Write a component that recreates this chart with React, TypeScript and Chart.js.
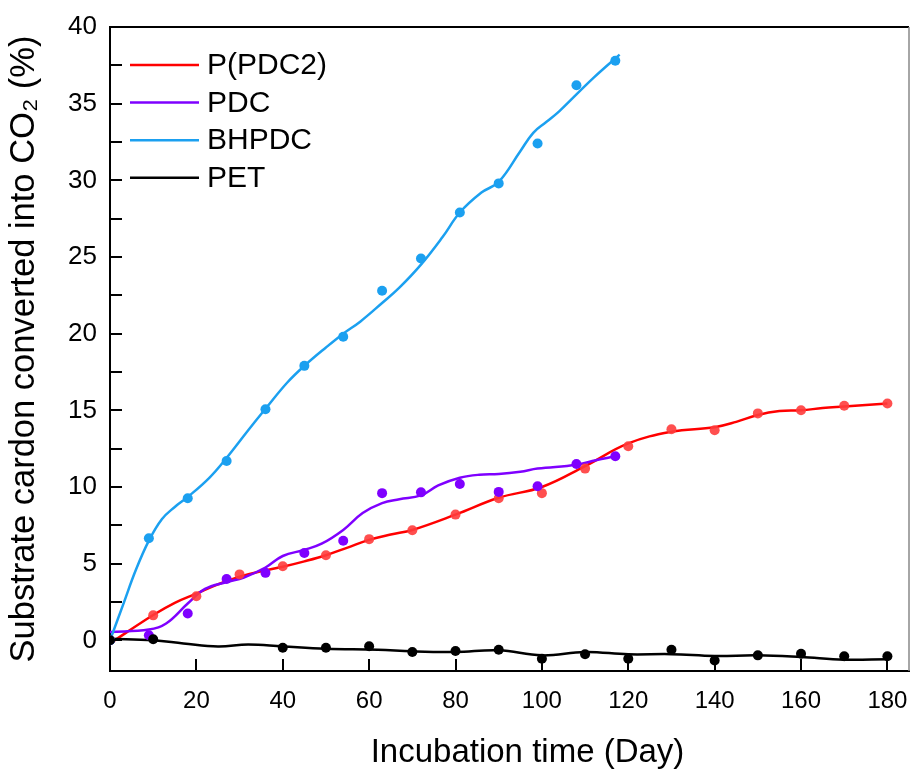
import React, { useEffect, useRef } from "react";
import { Chart, registerables } from "chart.js";

Chart.register(...registerables);

const FONT = "'Liberation Sans', Arial, Helvetica, sans-serif";

// ---- series meta ----
const seriesNames = ["P(PDC2)", "PDC", "BHPDC", "PET"];
const lineColors = ["#ff0000", "#7f00ff", "#1ba0f0", "#000000"];
const pointColors = ["rgba(255,60,60,0.9)", "#7f00ff", "#1ba0f0", "#000000"];

// ---- P(PDC2) ----
const ppdc2Days = [0, 10, 20, 30, 40, 50, 60, 70, 80, 90, 100, 110, 120, 130, 140, 150, 160, 170, 180];
const ppdc2Values = [0, 1.63, 2.87, 4.3, 4.83, 5.55, 6.6, 7.18, 8.2, 9.27, 9.6, 11.2, 12.66, 13.77, 13.7, 14.8, 15.0, 15.3, 15.45];
const ppdc2FitDays = [0, 10, 15, 20, 25, 30, 35, 40, 45, 50, 55, 60, 65, 70, 80, 90, 100, 110, 120, 130, 140, 145, 150, 155, 160, 165, 170, 180];
const ppdc2FitValues = [-0.2, 1.65, 2.45, 3.05, 3.65, 4.15, 4.5, 4.8, 5.15, 5.55, 6.05, 6.55, 6.9, 7.2, 8.2, 9.3, 10.0, 11.36, 12.84, 13.6, 13.9, 14.25, 14.7, 14.95, 15.0, 15.15, 15.25, 15.45];

// ---- PDC ----
const pdcDays = [0, 9, 18, 27, 36, 45, 54, 63, 72, 81, 90, 99, 108, 117];
const pdcValues = [0, 0.33, 1.75, 4.0, 4.4, 5.7, 6.5, 9.6, 9.65, 10.2, 9.68, 10.05, 11.5, 12.0];
const pdcFitDays = [0, 9, 13, 18, 22, 27, 31, 36, 40, 45, 49, 54, 58.5, 63, 67, 72, 76, 81, 85.5, 90, 95, 99, 108, 112.5, 117];
const pdcFitValues = [0.55, 0.7, 1.1, 2.4, 3.35, 3.8, 4.1, 4.75, 5.5, 5.9, 6.3, 7.2, 8.3, 8.95, 9.2, 9.45, 10.1, 10.6, 10.8, 10.85, 11.0, 11.2, 11.45, 11.75, 12.0];

// ---- BHPDC ----
const bhpdcDays = [0, 9, 18, 27, 36, 45, 54, 63, 72, 81, 90, 99, 108, 117];
const bhpdcValues = [0, 6.66, 9.27, 11.7, 15.07, 17.9, 19.8, 22.8, 24.9, 27.9, 29.8, 32.4, 36.2, 37.8];
const bhpdcFitDays = [0, 3, 6, 9, 12, 15, 18, 23, 27, 32, 36, 41, 45, 50, 54, 58, 63, 67, 72, 77, 81, 86, 90, 95, 98, 101, 104, 108, 112, 118];
const bhpdcFitValues = [0, 2.3, 4.6, 6.5, 7.9, 8.7, 9.35, 10.6, 11.9, 13.7, 15.1, 16.8, 17.9, 19.1, 20.0, 20.8, 22.0, 23.0, 24.5, 26.3, 27.9, 29.2, 29.9, 31.9, 33.1, 33.8, 34.5, 35.6, 36.7, 38.2];

// ---- PET ----
const petDays = [0, 10, 40, 50, 60, 70, 80, 90, 100, 110, 120, 130, 140, 150, 160, 170, 180];
const petValues = [0, 0.07, -0.48, -0.48, -0.39, -0.76, -0.7, -0.61, -1.2, -0.91, -1.2, -0.61, -1.31, -0.98, -0.87, -1.04, -1.04];
const petFitDays = [0, 10, 17, 25, 32, 40, 50, 62, 70, 80, 90, 100, 110, 120, 130, 140, 150, 160, 170, 180];
const petFitValues = [0.1, 0.0, -0.2, -0.4, -0.27, -0.4, -0.55, -0.61, -0.72, -0.76, -0.65, -0.98, -0.76, -0.91, -0.9, -1.02, -0.98, -1.09, -1.26, -1.23];

// ---- axes ----
const xTicks = [0, 20, 40, 60, 80, 100, 120, 140, 160, 180];
const yTicks = [0, 5, 10, 15, 20, 25, 30, 35, 40];
const yMinorTicks = [2.5, 7.5, 12.5, 17.5, 22.5, 27.5, 32.5, 37.5];
const xTitle = "Incubation time (Day)";
const yTitle = "Substrate cardon converted into CO\u2082 (%)";

const pairs = (xs: number[], ys: number[]) => xs.map((x, i) => ({ x, y: ys[i] }));

const pointSets = [
  pairs(ppdc2Days, ppdc2Values),
  pairs(pdcDays, pdcValues),
  pairs(bhpdcDays, bhpdcValues),
  pairs(petDays, petValues),
];
const fitSets = [
  pairs(ppdc2FitDays, ppdc2FitValues),
  pairs(pdcFitDays, pdcFitValues),
  pairs(bhpdcFitDays, bhpdcFitValues),
  pairs(petFitDays, petFitValues),
];

const decorPlugin = {
  id: "decor",
  afterDraw(chart: any) {
    const { ctx, chartArea, scales } = chart;
    const { left, right, top, bottom } = chartArea;
    const xs = scales.x;
    const ys = scales.y;
    ctx.save();
    // top & right frame
    ctx.strokeStyle = "#000";
    ctx.lineWidth = 2;
    ctx.beginPath();
    ctx.moveTo(left - 1, top);
    ctx.lineTo(right, top);
    ctx.stroke();
    ctx.strokeStyle = "#888";
    ctx.lineWidth = 1.5;
    ctx.beginPath();
    ctx.moveTo(right, top);
    ctx.lineTo(right, bottom);
    ctx.stroke();
    // inward ticks
    ctx.strokeStyle = "#000";
    ctx.lineWidth = 2;
    ctx.beginPath();
    [...yTicks, ...yMinorTicks].forEach((v) => {
      const py = Math.round(ys.getPixelForValue(v));
      ctx.moveTo(left, py);
      ctx.lineTo(left + 12, py);
    });
    xTicks.forEach((v) => {
      const px = Math.round(xs.getPixelForValue(v));
      ctx.moveTo(px, bottom);
      ctx.lineTo(px, bottom - 12);
    });
    ctx.stroke();
    // legend
    ctx.font = `30px ${FONT}`;
    ctx.textBaseline = "middle";
    ctx.textAlign = "left";
    seriesNames.forEach((name, i) => {
      const y = top + 38 + i * 37.6;
      ctx.strokeStyle = lineColors[i];
      ctx.lineWidth = 2.5;
      ctx.beginPath();
      ctx.moveTo(left + 20, y);
      ctx.lineTo(left + 89, y);
      ctx.stroke();
      ctx.fillStyle = "#000";
      ctx.fillText(name, left + 97, y + 1);
    });
    // x title
    ctx.font = `33px ${FONT}`;
    ctx.textAlign = "center";
    ctx.textBaseline = "middle";
    ctx.fillStyle = "#000";
    ctx.fillText(xTitle, (left + right) / 2 + 18, 753);
    ctx.restore();
  },
};

export default function App() {
  const ref = useRef<HTMLCanvasElement | null>(null);
  useEffect(() => {
    if (!ref.current) return;
    const datasets: any[] = [];
    fitSets.forEach((data, i) => {
      datasets.push({
        label: seriesNames[i] + " fit",
        data,
        showLine: true,
        borderColor: lineColors[i],
        backgroundColor: lineColors[i],
        borderWidth: 2.5,
        pointRadius: 0,
        tension: 0.4,
        order: 10 - i,
      });
    });
    pointSets.forEach((data, i) => {
      datasets.push({
        label: seriesNames[i],
        data,
        showLine: false,
        backgroundColor: pointColors[i],
        borderWidth: 0,
        pointRadius: 5,
        order: 4 - i,
      });
    });
    const chart = new Chart(ref.current, {
      type: "scatter",
      data: { datasets },
      options: {
        animation: false,
        responsive: true,
        maintainAspectRatio: false,
        layout: { padding: { top: 27, right: 5, left: 0, bottom: 0 } },
        plugins: { legend: { display: false }, tooltip: { enabled: false } },
        scales: {
          x: {
            type: "linear",
            min: 0,
            max: 185,
            afterBuildTicks: (s: any) => {
              s.ticks = xTicks.map((v) => ({ value: v }));
            },
            afterFit: (s: any) => {
              s.height = 101;
              s.paddingLeft = 0;
              s.paddingRight = 0;
            },
            grid: { display: false, drawTicks: false },
            border: { display: true, color: "#000", width: 2 },
            ticks: { color: "#000", padding: 16, font: { size: 24, family: FONT }, maxRotation: 0 },
          },
          y: {
            type: "linear",
            min: -2,
            max: 40,
            afterBuildTicks: (s: any) => {
              s.ticks = yTicks.map((v) => ({ value: v }));
            },
            afterFit: (s: any) => {
              s.width = 110;
              s.paddingTop = 0;
              s.paddingBottom = 0;
            },
            grid: { display: false, drawTicks: false },
            border: { display: true, color: "#000", width: 2 },
            ticks: { color: "#000", padding: 13, font: { size: 26, family: FONT } },
            title: {
              display: true,
              text: yTitle,
              color: "#000",
              font: { size: 34.5, family: FONT },
              padding: { top: 4, bottom: 0 },
            },
          },
        },
      },
      plugins: [decorPlugin],
    });
    return () => chart.destroy();
  }, []);
  return (
    <div style={{ position: "absolute", left: 0, top: 0, width: 914, height: 772, background: "#fff" }}>
      <canvas ref={ref} />
    </div>
  );
}
